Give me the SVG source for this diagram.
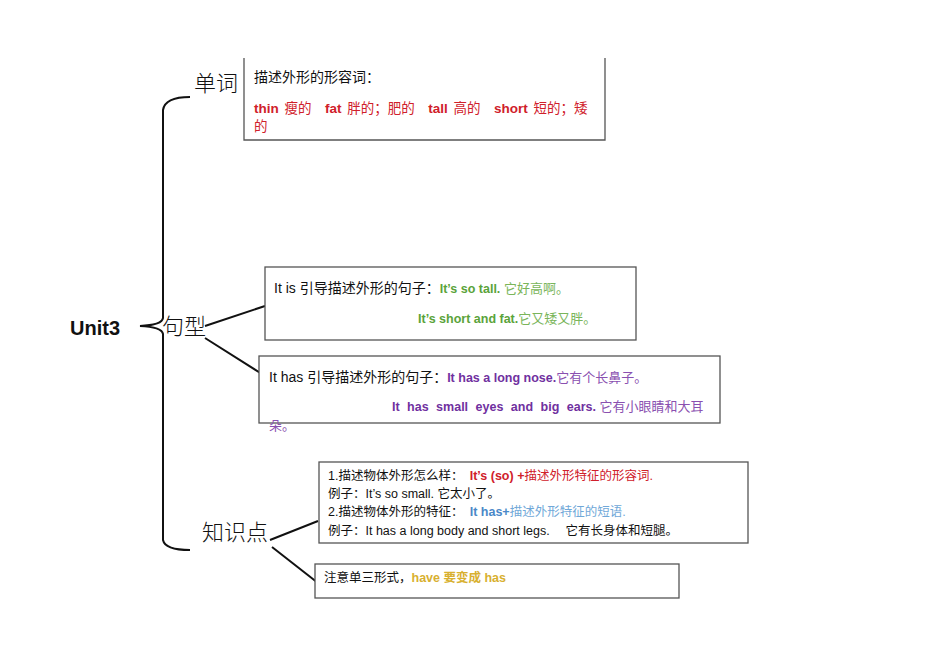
<svg xmlns="http://www.w3.org/2000/svg" width="950" height="672" viewBox="0 0 950 672">
<style>
text{font-family:"Liberation Sans","Noto Sans CJK SC",sans-serif;}
.box{fill:#fff;stroke:#555;stroke-width:1.3}
.ln{fill:none;stroke:#111;stroke-width:2}
.lbl{font-size:22px;fill:#111;font-family:"Noto Sans CJK SC",sans-serif;font-weight:300}
.t{font-size:14px;fill:#111}
.b{font-weight:bold}
</style>
<rect width="950" height="672" fill="#fff"/>
<g id="connectors">
<path class="ln" d="M190,97 Q165,97 163,110 L163,318 Q162,325 140,326 Q162,327 163,334 L163,540 Q165,550 190,550"/>
<path class="ln" d="M205,326 L265,306 M205,338 L262,374 M270,540 L318,521 M272,547 L318,583"/>
</g>
<g id="root"><text x="70" y="335" font-size="20" class="b" fill="#111">Unit3</text></g>
<g id="l1"><text class="lbl" x="194" y="91">单词</text></g>
<g id="l2"><text class="lbl" x="162" y="334">句型</text></g>
<g id="l3"><text class="lbl" x="202" y="540">知识点</text></g>
<g id="box1">
<path class="box" d="M244,58 L244,140 L605,140 L605,58"/>
<text class="t" x="254" y="82">描述外形的形容词：</text>
<text x="254" y="113" font-size="13.5" fill="#d0202a" word-spacing="2"><tspan class="b">thin</tspan> 瘦的　<tspan class="b">fat</tspan> 胖的；肥的　<tspan class="b">tall</tspan> 高的　<tspan class="b">short</tspan> 短的；矮</text>
<text x="254" y="131" font-size="13.5" fill="#d0202a">的</text>
</g>
<g id="box2">
<rect class="box" x="265" y="267" width="371" height="73"/>
<text class="t" x="274" y="293">It is 引导描述外形的句子：<tspan font-size="12.5" fill="#5aa33a" class="b">It’s so tall.</tspan><tspan font-size="13" fill="#7ab55a">  它好高啊。</tspan></text>
<text x="418" y="323" font-size="12.5"><tspan fill="#5aa33a" class="b">It’s short and fat.</tspan><tspan fill="#7ab55a" font-size="13">它又矮又胖。</tspan></text>
</g>
<g id="box3">
<rect class="box" x="259" y="356" width="461" height="67"/>
<text class="t" x="269" y="382">It has 引导描述外形的句子：<tspan font-size="12.5" fill="#7030a0" class="b">It has a long nose.</tspan><tspan font-size="13" fill="#8a50b0">它有个长鼻子。</tspan></text>
<text x="392" y="411" font-size="12.5"><tspan fill="#7030a0" class="b" word-spacing="4">It has small eyes and big ears.</tspan><tspan fill="#8a50b0" font-size="13"> 它有小眼睛和大耳</tspan></text>
<text x="269" y="430" font-size="13" fill="#8a50b0">朵。</text>
</g>
<g id="box4">
<rect class="box" x="319" y="462" width="429" height="81"/>
<text x="328" y="480" font-size="12.5" fill="#111">1.描述物体外形怎么样：　<tspan fill="#d0202a" class="b">It’s (so) +</tspan><tspan fill="#d0202a">描述外形特征的形容词.</tspan></text>
<text x="328" y="498" font-size="12.5" fill="#111">例子：It’s so small.  它太小了。</text>
<text x="328" y="516" font-size="12.5" fill="#111">2.描述物体外形的特征：　<tspan fill="#4a88c8" class="b">It has+</tspan><tspan fill="#70a8d8">描述外形特征的短语.</tspan></text>
<text x="328" y="535" font-size="12.5" fill="#111">例子：It has a long body and short legs.　  它有长身体和短腿。</text>
</g>
<g id="box5">
<rect class="box" x="315" y="564" width="364" height="34"/>
<text x="324" y="582" font-size="12.5" fill="#111">注意单三形式，<tspan fill="#d8b030" class="b">have 要变成 has</tspan></text>
</g>
</svg>
